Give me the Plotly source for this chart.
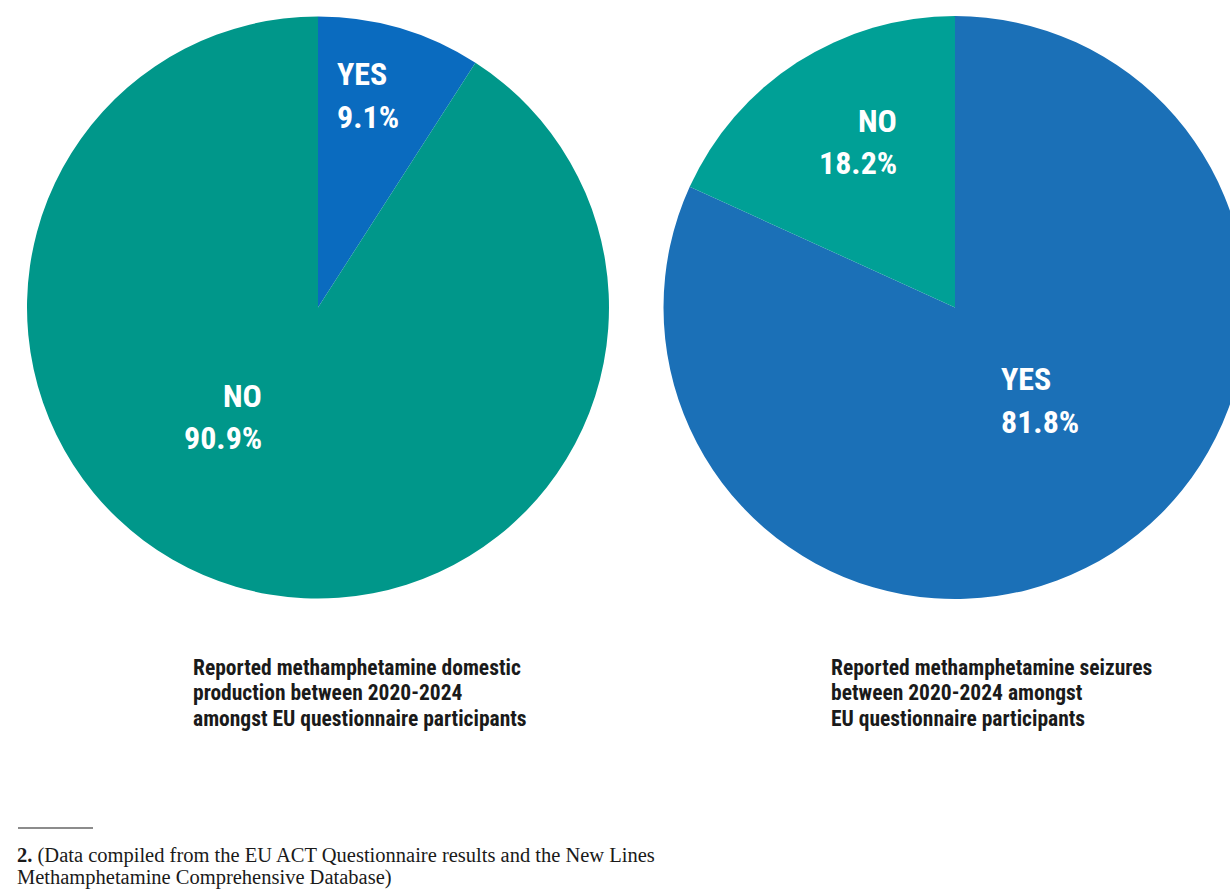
import plotly.graph_objects as go

# Survey answers, share of participants (%)
answers = ["YES", "NO"]
production_share = [9.1, 90.9]
seizure_share = [81.8, 18.2]

production_title = ["Reported methamphetamine domestic",
                    "production between 2020-2024",
                    "amongst EU questionnaire participants"]
seizure_title = ["Reported methamphetamine seizures",
                 "between 2020-2024 amongst",
                 "EU questionnaire participants"]
footnote_lines = ["<b>2.</b> (Data compiled from the EU ACT Questionnaire results and the New Lines",
                  "Methamphetamine Comprehensive Database)"]

W, H = 1250, 890
COND = "Roboto Condensed, Liberation Sans Narrow, DejaVu Sans Condensed, Arial Narrow, sans-serif"
SERIF = "Liberation Serif, Times New Roman, DejaVu Serif, serif"


def px(x):
    return x / W


def py(y):
    return 1 - y / H


fig = go.Figure()

fig.add_trace(go.Pie(
    labels=answers, values=production_share, sort=False, direction="clockwise",
    rotation=0, textinfo="none", hoverinfo="label+percent", showlegend=False,
    marker=dict(colors=["#0A6BBF", "#00978A"], line=dict(width=0)),
    domain=dict(x=[px(27), px(609)], y=[py(599), py(16)]),
))
fig.add_trace(go.Pie(
    labels=answers, values=seizure_share, sort=False, direction="clockwise",
    rotation=0, textinfo="none", hoverinfo="label+percent", showlegend=False,
    marker=dict(colors=["#1B70B7", "#00A096"], line=dict(width=0)),
    domain=dict(x=[px(663), px(1247)], y=[py(599), py(16)]),
))

annotations = []


def slice_label(name, value, x, y_name, y_val, anchor):
    for txt, yy in ((name, y_name), (f"{value}%", y_val)):
        annotations.append(dict(
            text=f"<b>{txt}</b>", x=px(x), y=py(yy), xref="paper", yref="paper",
            xanchor=anchor, yanchor="middle", showarrow=False,
            font=dict(family=COND, size=32, color="white"),
        ))


slice_label(answers[0], production_share[0], 335, 74, 117, "left")
slice_label(answers[1], production_share[1], 264, 396, 438, "right")
slice_label(answers[1], seizure_share[1], 899, 121, 163, "right")
slice_label(answers[0], seizure_share[0], 999, 379, 422, "left")

for lines, x0 in ((production_title, 191), (seizure_title, 829)):
    for i, line in enumerate(lines):
        annotations.append(dict(
            text=f"<b>{line}</b>", x=px(x0), y=py(667 + 25.5 * i), xref="paper", yref="paper",
            xanchor="left", yanchor="middle", showarrow=False,
            font=dict(family=COND, size=21.5, color="#1a1a1a"),
        ))

for i, line in enumerate(footnote_lines):
    annotations.append(dict(
        text=line, x=px(15), y=py(855 + 22 * i), xref="paper", yref="paper",
        xanchor="left", yanchor="middle", showarrow=False,
        font=dict(family=SERIF, size=20.5, color="#1a1a1a"),
    ))

fig.update_layout(
    width=W, height=H, autosize=False,
    margin=dict(l=0, r=0, t=0, b=0),
    paper_bgcolor="white", plot_bgcolor="white",
    annotations=annotations,
    shapes=[dict(type="line", xref="paper", yref="paper",
                 x0=px(18), x1=px(93), y0=py(828), y1=py(828),
                 line=dict(color="#1a1a1a", width=1.2))],
)

fig.write_html("out.html", config={"displayModeBar": False},
               post_script="document.body.style.margin='0';document.body.style.overflow='hidden';")
